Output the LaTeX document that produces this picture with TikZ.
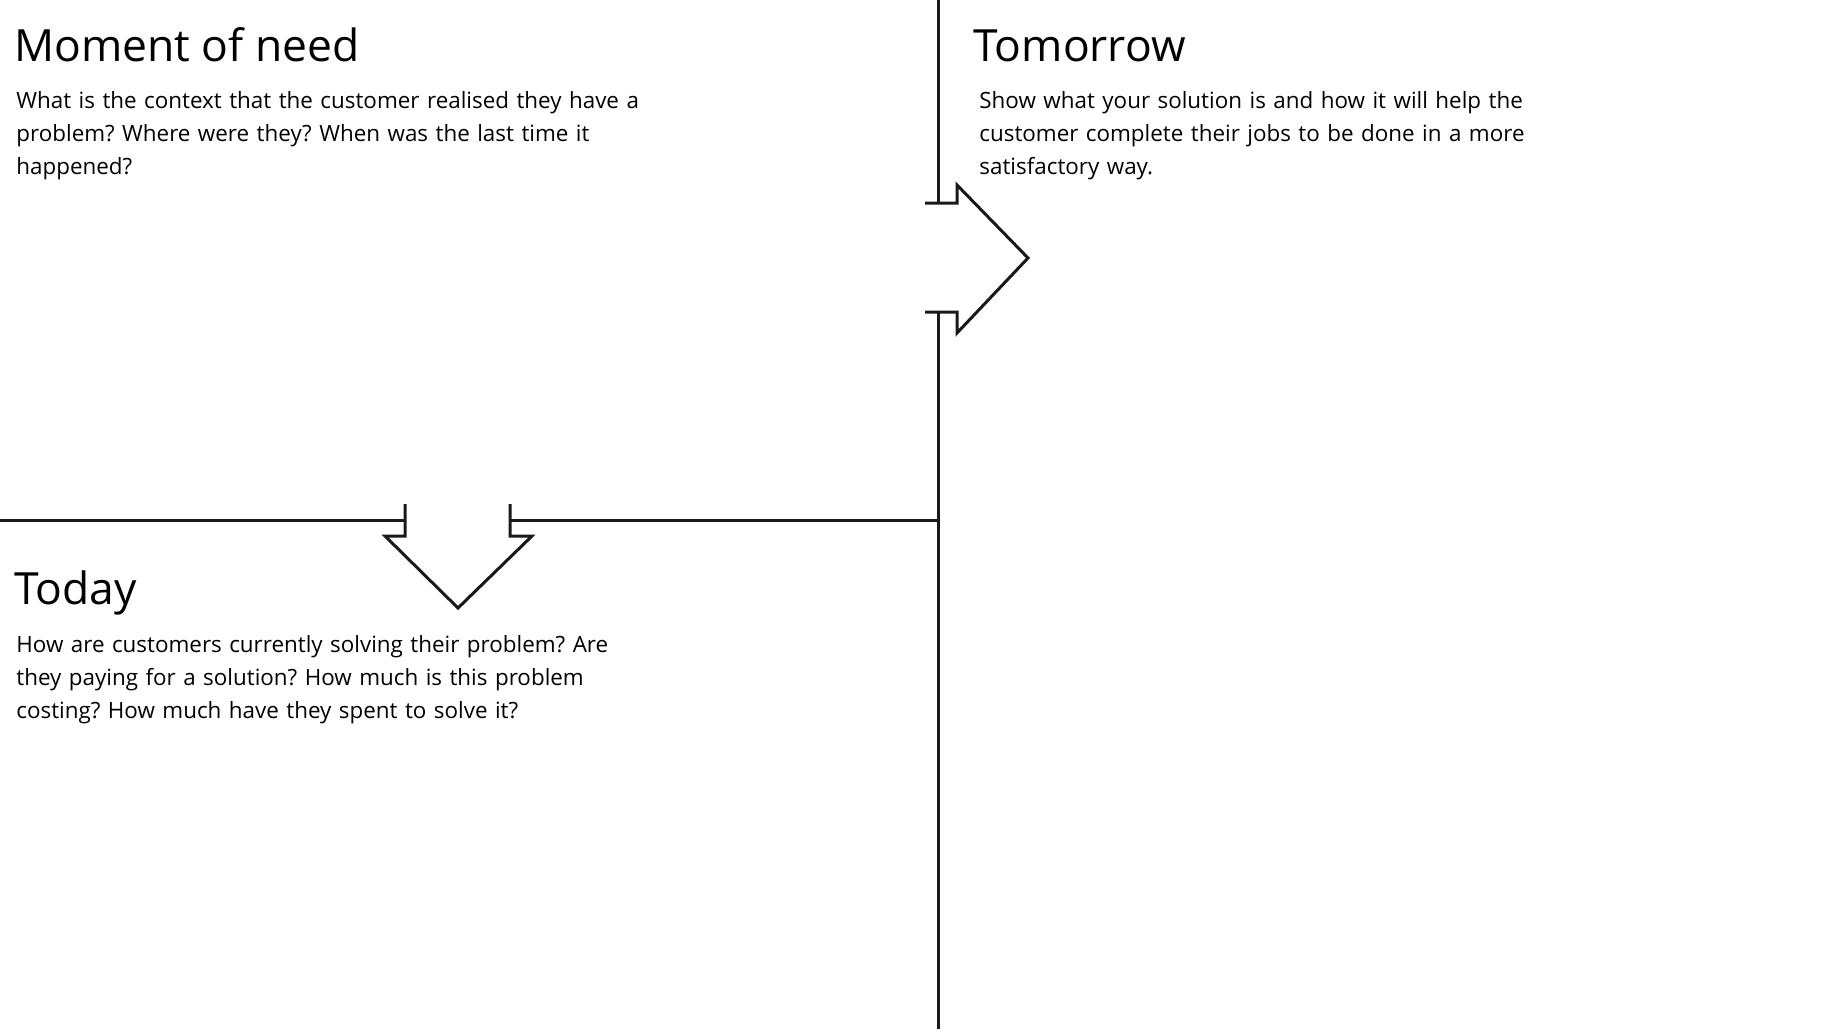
\documentclass[tikz,border=0pt]{standalone}
\usepackage{fontspec}
\setmainfont{Open Sans}
\usetikzlibrary{positioning}
\tikzset{
  gridline/.style={line width=1.5pt,draw=black!90,line join=miter},
  headline/.style={anchor=base west,inner sep=0pt,font=\fontsize{22.2}{26}\selectfont},
  bodytext/.style={anchor=base west,inner sep=0pt,align=left,
    text width=340pt,font=\fontsize{11.2}{16.6}\selectfont\frenchspacing}
}
\begin{document}
\begin{tikzpicture}[x=0.5pt,y=-0.5pt]
  \useasboundingbox (0,0) rectangle (1839,1029);
  % grid corners
  \coordinate (vtop) at (938,0);
  \coordinate (vbot) at (938,1029);
  \coordinate (hleft) at (0,520);
  \coordinate (hmid) at (938,520);
  % texts
  \node[headline] (need) at (14,61) {Moment of need};
  \node[bodytext] (needtxt) at (16,108) {What is the context that the customer realised they have a\\
    problem? Where were they? When was the last time it\\happened?};
  \node[headline] (tomorrow) at (973,61) {Tomorrow};
  \node[bodytext] (tomorrowtxt) at (979,108) {Show what your solution is and how it will help the\\
    customer complete their jobs to be done in a more\\satisfactory way.};
  \node[headline] (today) at (14,604) {Today};
  \node[bodytext] (todaytxt) at (16,652) {How are customers currently solving their problem? Are\\
    they paying for a solution? How much is this problem\\costing? How much have they spent to solve it?};
  % vertical divider with arrow to the right
  \draw[gridline] (vtop) -- (938,203);
  \draw[gridline] (938,312) -- (vbot);
  \draw[gridline] (925,203) -- (957,203) -- (957,185) -- (1028,258)
    -- (957,333) -- (957,312) -- (925,312);
  % horizontal divider with arrow down
  \draw[gridline] (hleft) -- (405,520);
  \draw[gridline] (510,520) -- (hmid);
  \draw[gridline] (405,504) -- (405,536) -- (385,536) -- (458,608)
    -- (532,536) -- (510,536) -- (510,504);
\end{tikzpicture}
\end{document}
